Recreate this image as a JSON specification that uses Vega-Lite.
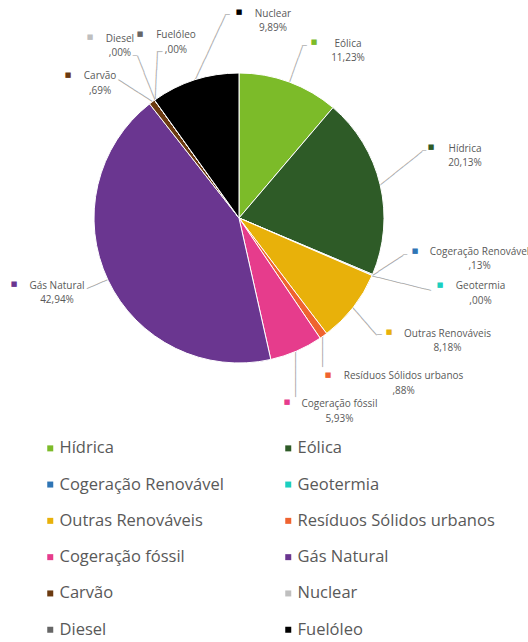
{
  "$schema": "https://vega.github.io/schema/vega-lite/v6.json",
  "width": 478,
  "height": 848,
  "autosize": {"type": "none"},
  "padding": {"left": 0, "top": -206, "right": 50, "bottom": 0},
  "background": "white",
  "config": {
    "view": {"stroke": "#99CC00", "strokeWidth": 4, "strokeDash": [0, 1804, 848, 0]},
    "legend": {"gridAlign": "all"}
  },
  "data": {
    "values": [
      {"ordem": 1, "fonte": "Hídrica", "valor": 11.23, "rotulo": "Eólica\n11,23%"},
      {"ordem": 2, "fonte": "Eólica", "valor": 20.13, "rotulo": "Hídrica\n20,13%"},
      {"ordem": 3, "fonte": "Cogeração Renovável", "valor": 0.13, "rotulo": "Cogeração Renovável\n,13%"},
      {"ordem": 4, "fonte": "Geotermia", "valor": 0.0, "rotulo": "Geotermia\n,00%"},
      {"ordem": 5, "fonte": "Outras Renováveis", "valor": 8.18, "rotulo": "Outras Renováveis\n8,18%"},
      {"ordem": 6, "fonte": "Resíduos Sólidos urbanos", "valor": 0.88, "rotulo": "Resíduos Sólidos urbanos\n,88%"},
      {"ordem": 7, "fonte": "Cogeração fóssil", "valor": 5.93, "rotulo": "Cogeração fóssil\n5,93%"},
      {"ordem": 8, "fonte": "Gás Natural", "valor": 42.94, "rotulo": "Gás Natural\n42,94%"},
      {"ordem": 9, "fonte": "Carvão", "valor": 0.69, "rotulo": "Carvão\n,69%"},
      {"ordem": 10, "fonte": "Nuclear", "valor": 0.0, "rotulo": "Diesel\n,00%"},
      {"ordem": 11, "fonte": "Diesel", "valor": 0.0, "rotulo": "Fuelóleo\n,00%"},
      {"ordem": 12, "fonte": "Fuelóleo", "valor": 9.89, "rotulo": "Nuclear\n9,89%"}
    ]
  },
  "encoding": {
    "theta": {"field": "valor", "type": "quantitative", "stack": true},
    "order": {"field": "ordem", "type": "quantitative"},
    "color": {
      "field": "fonte",
      "type": "nominal",
      "scale": {
        "domain": ["Hídrica", "Eólica", "Cogeração Renovável", "Geotermia", "Outras Renováveis", "Resíduos Sólidos urbanos", "Cogeração fóssil", "Gás Natural", "Carvão", "Nuclear", "Diesel", "Fuelóleo"],
        "range": ["#7CBB29", "#2E5B27", "#2F75B5", "#1BCFC0", "#E8B10A", "#EF6330", "#E63C8C", "#6A3690", "#6B3A10", "#BFBFBF", "#666666", "#000000"]
      },
      "legend": {
        "orient": "none",
        "direction": "horizontal",
        "legendX": 42,
        "legendY": 646,
        "columns": 2,
        "title": null,
        "symbolType": "square",
        "symbolSize": 36,
        "symbolStrokeWidth": 0,
        "labelFont": "Open Sans",
        "labelFontSize": 16.5,
        "labelColor": "#595959",
        "labelOffset": 1,
        "labelLimit": 400,
        "rowPadding": 19.3,
        "columnPadding": 23,
        "padding": 0
      }
    }
  },
  "layer": [
    {"mark": {"type": "text", "radius": 145, "angle": 109.8, "dx": -38.1, "align": "left", "baseline": "middle", "font": "DejaVu Sans Mono", "fontSize": 10},
     "encoding": {"text": {"condition": {"test": "datum.fonte === 'Hídrica'", "value": "────────────────────"}, "value": ""}, "color": {"value": "#A6A6A6"}}},
    {"mark": {"type": "text", "radius": 145, "angle": 141.4, "dx": -53.6, "align": "left", "baseline": "middle", "font": "DejaVu Sans Mono", "fontSize": 10},
     "encoding": {"text": {"condition": {"test": "datum.fonte === 'Eólica'", "value": "────────────────────"}, "value": ""}, "color": {"value": "#A6A6A6"}}},
    {"mark": {"type": "text", "radius": 145, "angle": 146.9, "dx": -36.6, "align": "left", "baseline": "middle", "font": "DejaVu Sans Mono", "fontSize": 10},
     "encoding": {"text": {"condition": {"test": "datum.fonte === 'Cogeração Renovável'", "value": "────────────────────"}, "value": ""}, "color": {"value": "#A6A6A6"}}},
    {"mark": {"type": "text", "radius": 145, "angle": 193.8, "dx": -60.7, "align": "left", "baseline": "middle", "font": "DejaVu Sans Mono", "fontSize": 10},
     "encoding": {"text": {"condition": {"test": "datum.fonte === 'Geotermia'", "value": "────────────────────"}, "value": ""}, "color": {"value": "#A6A6A6"}}},
    {"mark": {"type": "text", "radius": 145, "angle": 229.1, "dx": -36.5, "align": "left", "baseline": "middle", "font": "DejaVu Sans Mono", "fontSize": 10},
     "encoding": {"text": {"condition": {"test": "datum.fonte === 'Outras Renováveis'", "value": "────────────────────"}, "value": ""}, "color": {"value": "#A6A6A6"}}},
    {"mark": {"type": "text", "radius": 145, "angle": 270, "dx": -31.1, "align": "left", "baseline": "middle", "font": "DejaVu Sans Mono", "fontSize": 10},
     "encoding": {"text": {"condition": {"test": "datum.fonte === 'Resíduos Sólidos urbanos'", "value": "────────────────────"}, "value": ""}, "color": {"value": "#A6A6A6"}}},
    {"mark": {"type": "text", "radius": 145, "angle": 270, "dx": -45.9, "align": "left", "baseline": "middle", "font": "DejaVu Sans Mono", "fontSize": 10},
     "encoding": {"text": {"condition": {"test": "datum.fonte === 'Cogeração fóssil'", "value": "────────────────────"}, "value": ""}, "color": {"value": "#A6A6A6"}}},
    {"mark": {"type": "text", "radius": 145, "angle": 337.0, "dx": -22.8, "align": "left", "baseline": "middle", "font": "DejaVu Sans Mono", "fontSize": 10},
     "encoding": {"text": {"condition": {"test": "datum.fonte === 'Gás Natural'", "value": "────────────────────"}, "value": ""}, "color": {"value": "#A6A6A6"}}},
    {"mark": {"type": "text", "radius": 145, "angle": 32.9, "dx": -40.5, "align": "left", "baseline": "middle", "font": "DejaVu Sans Mono", "fontSize": 10},
     "encoding": {"text": {"condition": {"test": "datum.fonte === 'Carvão'", "value": "────────────────────"}, "value": ""}, "color": {"value": "#A6A6A6"}}},
    {"mark": {"type": "text", "radius": 145, "angle": 68.2, "dx": -47.5, "align": "left", "baseline": "middle", "font": "DejaVu Sans Mono", "fontSize": 10},
     "encoding": {"text": {"condition": {"test": "datum.fonte === 'Nuclear'", "value": "────────────────────"}, "value": ""}, "color": {"value": "#A6A6A6"}}},
    {"mark": {"type": "text", "radius": 145, "angle": 92.9, "dx": -48.2, "align": "left", "baseline": "middle", "font": "DejaVu Sans Mono", "fontSize": 10},
     "encoding": {"text": {"condition": {"test": "datum.fonte === 'Diesel'", "value": "────────────────────"}, "value": ""}, "color": {"value": "#A6A6A6"}}},
    {"mark": {"type": "text", "radius": 145, "angle": 115.0, "dx": -71.6, "align": "left", "baseline": "middle", "font": "DejaVu Sans Mono", "fontSize": 10},
     "encoding": {"text": {"condition": {"test": "datum.fonte === 'Fuelóleo'", "value": "────────────────────"}, "value": ""}, "color": {"value": "#A6A6A6"}}},

    {"mark": {"type": "text", "radius": 145, "dx": 12.9, "dy": -35.9, "align": "left", "baseline": "middle", "font": "DejaVu Sans Mono", "fontSize": 8},
     "encoding": {"text": {"condition": {"test": "datum.fonte === 'Hídrica'", "value": "─"}, "value": ""}, "color": {"value": "#A6A6A6"}}},
    {"mark": {"type": "text", "radius": 145, "dx": 41.9, "dy": -33.5, "align": "left", "baseline": "middle", "font": "DejaVu Sans Mono", "fontSize": 7},
     "encoding": {"text": {"condition": {"test": "datum.fonte === 'Eólica'", "value": "─"}, "value": ""}, "color": {"value": "#A6A6A6"}}},
    {"mark": {"type": "text", "radius": 145, "dx": 30.7, "dy": -20, "align": "left", "baseline": "middle", "font": "DejaVu Sans Mono", "fontSize": 7},
     "encoding": {"text": {"condition": {"test": "datum.fonte === 'Cogeração Renovável'", "value": "─"}, "value": ""}, "color": {"value": "#A6A6A6"}}},
    {"mark": {"type": "text", "radius": 145, "dx": 23.9, "dy": 27.6, "align": "left", "baseline": "middle", "font": "DejaVu Sans Mono", "fontSize": 8},
     "encoding": {"text": {"condition": {"test": "datum.fonte === 'Outras Renováveis'", "value": "─"}, "value": ""}, "color": {"value": "#A6A6A6"}}},
    {"mark": {"type": "text", "radius": 145, "dx": -17.6, "dy": -44.1, "align": "right", "baseline": "middle", "font": "DejaVu Sans Mono", "fontSize": 7},
     "encoding": {"text": {"condition": {"test": "datum.fonte === 'Nuclear'", "value": "─"}, "value": ""}, "color": {"value": "#A6A6A6"}}},
    {"mark": {"type": "text", "radius": 145, "dx": 2.4, "dy": -48.1, "align": "left", "baseline": "middle", "font": "DejaVu Sans Mono", "fontSize": 9},
     "encoding": {"text": {"condition": {"test": "datum.fonte === 'Diesel'", "value": "─"}, "value": ""}, "color": {"value": "#A6A6A6"}}},
    {"mark": {"type": "text", "radius": 145, "dx": 30.3, "dy": -64.9, "align": "left", "baseline": "middle", "font": "DejaVu Sans Mono", "fontSize": 8},
     "encoding": {"text": {"condition": {"test": "datum.fonte === 'Fuelóleo'", "value": "─"}, "value": ""}, "color": {"value": "#A6A6A6"}}},

    {"mark": {"type": "arc", "radius": 145, "stroke": "white", "strokeWidth": 1}},

    {"mark": {"type": "text", "radius": 145, "dx": 24.9, "dy": -39.9, "align": "center", "baseline": "middle", "font": "DejaVu Sans", "fontSize": 7},
     "encoding": {"text": {"condition": {"test": "datum.fonte === 'Hídrica'", "value": "■"}, "value": ""}}},
    {"mark": {"type": "text", "radius": 145, "dx": 50.9, "dy": -37.5, "align": "center", "baseline": "middle", "font": "DejaVu Sans", "fontSize": 7},
     "encoding": {"text": {"condition": {"test": "datum.fonte === 'Eólica'", "value": "■"}, "value": ""}}},
    {"mark": {"type": "text", "radius": 145, "dx": 42.7, "dy": -24, "align": "center", "baseline": "middle", "font": "DejaVu Sans", "fontSize": 7},
     "encoding": {"text": {"condition": {"test": "datum.fonte === 'Cogeração Renovável'", "value": "■"}, "value": ""}}},
    {"mark": {"type": "text", "radius": 145, "dx": 67.9, "dy": 9, "align": "center", "baseline": "middle", "font": "DejaVu Sans", "fontSize": 7},
     "encoding": {"text": {"condition": {"test": "datum.fonte === 'Geotermia'", "value": "■"}, "value": ""}}},
    {"mark": {"type": "text", "radius": 145, "dx": 35.9, "dy": 24.6, "align": "center", "baseline": "middle", "font": "DejaVu Sans", "fontSize": 7},
     "encoding": {"text": {"condition": {"test": "datum.fonte === 'Outras Renováveis'", "value": "■"}, "value": ""}}},
    {"mark": {"type": "text", "radius": 145, "dx": 4.6, "dy": 39.6, "align": "center", "baseline": "middle", "font": "DejaVu Sans", "fontSize": 7},
     "encoding": {"text": {"condition": {"test": "datum.fonte === 'Resíduos Sólidos urbanos'", "value": "■"}, "value": ""}}},
    {"mark": {"type": "text", "radius": 145, "dx": -9.5, "dy": 50.9, "align": "center", "baseline": "middle", "font": "DejaVu Sans", "fontSize": 7},
     "encoding": {"text": {"condition": {"test": "datum.fonte === 'Cogeração fóssil'", "value": "■"}, "value": ""}}},
    {"mark": {"type": "text", "radius": 145, "dx": -94, "dy": 3.9, "align": "center", "baseline": "middle", "font": "DejaVu Sans", "fontSize": 7},
     "encoding": {"text": {"condition": {"test": "datum.fonte === 'Gás Natural'", "value": "■"}, "value": ""}}},
    {"mark": {"type": "text", "radius": 145, "dx": -84, "dy": -27, "align": "center", "baseline": "middle", "font": "DejaVu Sans", "fontSize": 7},
     "encoding": {"text": {"condition": {"test": "datum.fonte === 'Carvão'", "value": "■"}, "value": ""}}},
    {"mark": {"type": "text", "radius": 145, "dx": -64.6, "dy": -63.1, "align": "center", "baseline": "middle", "font": "DejaVu Sans", "fontSize": 7},
     "encoding": {"text": {"condition": {"test": "datum.fonte === 'Nuclear'", "value": "■"}, "value": ""}}},
    {"mark": {"type": "text", "radius": 145, "dx": -14.6, "dy": -66.6, "align": "center", "baseline": "middle", "font": "DejaVu Sans", "fontSize": 7},
     "encoding": {"text": {"condition": {"test": "datum.fonte === 'Diesel'", "value": "■"}, "value": ""}}},
    {"mark": {"type": "text", "radius": 145, "dx": 44.3, "dy": -67.9, "align": "center", "baseline": "middle", "font": "DejaVu Sans", "fontSize": 7},
     "encoding": {"text": {"condition": {"test": "datum.fonte === 'Fuelóleo'", "value": "■"}, "value": ""}}},

    {"mark": {"type": "text", "radius": 145, "dx": 58.9, "dy": -35.4, "align": "center", "baseline": "alphabetic", "lineBreak": "\n", "lineHeight": 14.5, "font": "Open Sans", "fontSize": 10},
     "encoding": {"text": {"condition": {"test": "datum.fonte === 'Hídrica'", "field": "rotulo", "type": "nominal"}, "value": ""}, "color": {"value": "#595959"}}},
    {"mark": {"type": "text", "radius": 145, "dx": 84.9, "dy": -33, "align": "center", "baseline": "alphabetic", "lineBreak": "\n", "lineHeight": 14.5, "font": "Open Sans", "fontSize": 10},
     "encoding": {"text": {"condition": {"test": "datum.fonte === 'Eólica'", "field": "rotulo", "type": "nominal"}, "value": ""}, "color": {"value": "#595959"}}},
    {"mark": {"type": "text", "radius": 145, "dx": 107.2, "dy": -20, "align": "center", "baseline": "alphabetic", "lineBreak": "\n", "lineHeight": 14.5, "font": "Open Sans", "fontSize": 10},
     "encoding": {"text": {"condition": {"test": "datum.fonte === 'Cogeração Renovável'", "field": "rotulo", "type": "nominal"}, "value": ""}, "color": {"value": "#595959"}}},
    {"mark": {"type": "text", "radius": 145, "dx": 108.4, "dy": 13.5, "align": "center", "baseline": "alphabetic", "lineBreak": "\n", "lineHeight": 14.5, "font": "Open Sans", "fontSize": 10},
     "encoding": {"text": {"condition": {"test": "datum.fonte === 'Geotermia'", "field": "rotulo", "type": "nominal"}, "value": ""}, "color": {"value": "#595959"}}},
    {"mark": {"type": "text", "radius": 145, "dx": 94.4, "dy": 29.1, "align": "center", "baseline": "alphabetic", "lineBreak": "\n", "lineHeight": 14.5, "font": "Open Sans", "fontSize": 10},
     "encoding": {"text": {"condition": {"test": "datum.fonte === 'Outras Renováveis'", "field": "rotulo", "type": "nominal"}, "value": ""}, "color": {"value": "#595959"}}},
    {"mark": {"type": "text", "radius": 145, "dx": 80.1, "dy": 43.6, "align": "center", "baseline": "alphabetic", "lineBreak": "\n", "lineHeight": 14.5, "font": "Open Sans", "fontSize": 10},
     "encoding": {"text": {"condition": {"test": "datum.fonte === 'Resíduos Sólidos urbanos'", "field": "rotulo", "type": "nominal"}, "value": ""}, "color": {"value": "#595959"}}},
    {"mark": {"type": "text", "radius": 145, "dx": 43, "dy": 55.9, "align": "center", "baseline": "alphabetic", "lineBreak": "\n", "lineHeight": 14.5, "font": "Open Sans", "fontSize": 10},
     "encoding": {"text": {"condition": {"test": "datum.fonte === 'Cogeração fóssil'", "field": "rotulo", "type": "nominal"}, "value": ""}, "color": {"value": "#595959"}}},
    {"mark": {"type": "text", "radius": 145, "dx": -51, "dy": 8.4, "align": "center", "baseline": "alphabetic", "lineBreak": "\n", "lineHeight": 14.5, "font": "Open Sans", "fontSize": 10},
     "encoding": {"text": {"condition": {"test": "datum.fonte === 'Gás Natural'", "field": "rotulo", "type": "nominal"}, "value": ""}, "color": {"value": "#595959"}}},
    {"mark": {"type": "text", "radius": 145, "dx": -52, "dy": -22.5, "align": "center", "baseline": "alphabetic", "lineBreak": "\n", "lineHeight": 14.5, "font": "Open Sans", "fontSize": 10},
     "encoding": {"text": {"condition": {"test": "datum.fonte === 'Carvão'", "field": "rotulo", "type": "nominal"}, "value": ""}, "color": {"value": "#595959"}}},
    {"mark": {"type": "text", "radius": 145, "dx": -34.6, "dy": -58.6, "align": "center", "baseline": "alphabetic", "lineBreak": "\n", "lineHeight": 14.5, "font": "Open Sans", "fontSize": 10},
     "encoding": {"text": {"condition": {"test": "datum.fonte === 'Nuclear'", "field": "rotulo", "type": "nominal"}, "value": ""}, "color": {"value": "#595959"}}},
    {"mark": {"type": "text", "radius": 145, "dx": 21.4, "dy": -62.1, "align": "center", "baseline": "alphabetic", "lineBreak": "\n", "lineHeight": 14.5, "font": "Open Sans", "fontSize": 10},
     "encoding": {"text": {"condition": {"test": "datum.fonte === 'Diesel'", "field": "rotulo", "type": "nominal"}, "value": ""}, "color": {"value": "#595959"}}},
    {"mark": {"type": "text", "radius": 145, "dx": 78.3, "dy": -63.4, "align": "center", "baseline": "alphabetic", "lineBreak": "\n", "lineHeight": 14.5, "font": "Open Sans", "fontSize": 10},
     "encoding": {"text": {"condition": {"test": "datum.fonte === 'Fuelóleo'", "field": "rotulo", "type": "nominal"}, "value": ""}, "color": {"value": "#595959"}}}
  ]
}
